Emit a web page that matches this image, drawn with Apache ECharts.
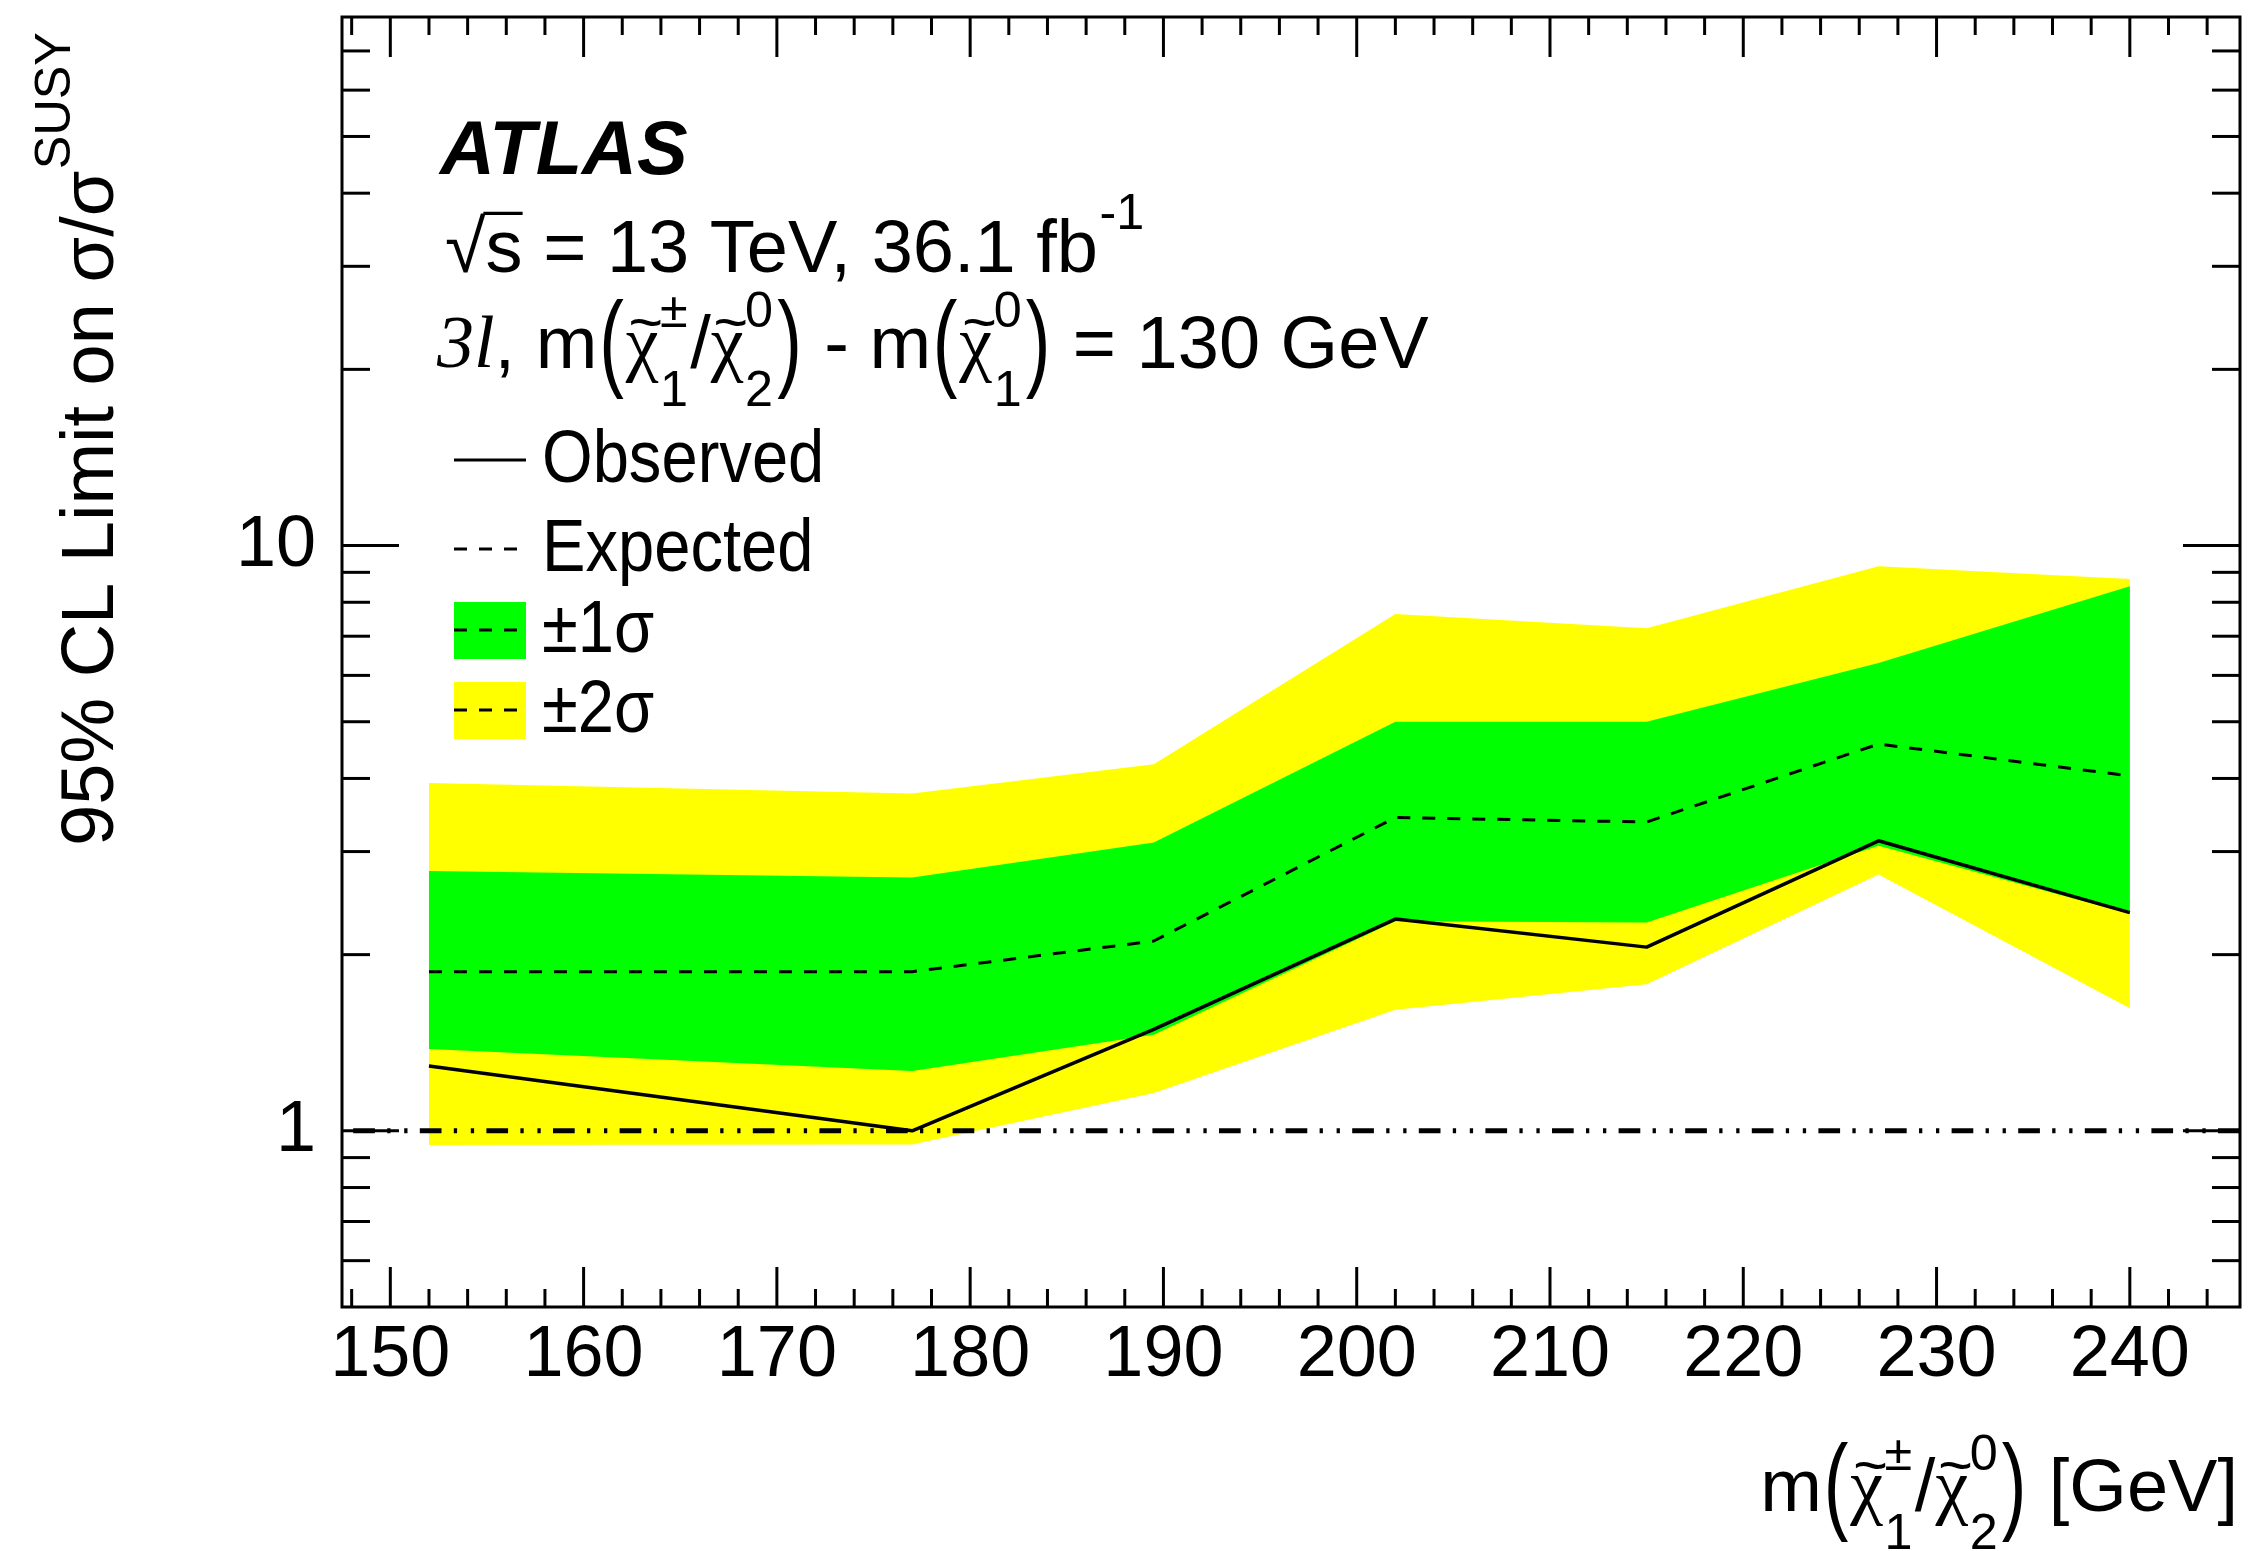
<!DOCTYPE html>
<html>
<head>
<meta charset="utf-8">
<script src="https://cdn.jsdelivr.net/npm/echarts@6/dist/echarts.min.js"></script>
<style>
  html, body { margin: 0; padding: 0; background: #fff; }
  #chart { width: 2249px; height: 1551px; }
</style>
</head>
<body>
<div id="chart"></div>
<script>
// Chargino/neutralino mass points [GeV]
const massPoints = [152, 177, 189.5, 202, 215, 227, 240];
// 95% CL upper limits on sigma / sigma_SUSY
const observedLimit = [1.29, 1.0, 1.49, 2.30, 2.06, 3.13, 2.36];
const expectedLimit = [1.87, 1.87, 2.11, 3.43, 3.37, 4.58, 4.04];
const oneSigmaUp   = [2.78, 2.71, 3.11, 5.00, 5.00, 6.30, 8.52];
const oneSigmaDown = [1.38, 1.265, 1.46, 2.28, 2.27, 3.07, 2.35];
const twoSigmaUp   = [3.93, 3.77, 4.23, 7.64, 7.22, 9.22, 8.77];
const twoSigmaDown = [0.946, 0.948, 1.16, 1.61, 1.78, 2.74, 1.62];
const unitLimit = 1;

// Axis ticks and labels
const xMajorTicks = [150, 160, 170, 180, 190, 200, 210, 220, 230, 240];
const xTickLabels = ['150', '160', '170', '180', '190', '200', '210', '220', '230', '240'];
const xMinorTicks = [148, 152, 154, 156, 158, 162, 164, 166, 168, 172, 174, 176, 178,
  182, 184, 186, 188, 192, 194, 196, 198, 202, 204, 206, 208, 212, 214, 216, 218,
  222, 224, 226, 228, 232, 234, 236, 238, 242, 244];
const yMajorTicks = [1, 10];
const yTickLabels = ['1', '10'];
const yMinorTicks = [0.6, 0.7, 0.8, 0.9, 2, 3, 4, 5, 6, 7, 8, 9, 20, 30, 40, 50, 60, 70];

const X_MIN = 147.5, X_MAX = 245.7, Y_MIN = 0.5, Y_MAX = 80;

const SANS = '"Liberation Sans", Arial, Helvetica, sans-serif';
const SERIF = '"Liberation Serif", "Times New Roman", serif';
const GREEN = '#00ff00';
const YELLOW = '#ffff00';

// ---- text helpers -------------------------------------------------------
const measureCtx = document.createElement('canvas').getContext('2d');
function fontStr(p) {
  return (p.style || 'normal') + ' ' + (p.weight || 'normal') + ' ' + p.size + 'px ' + (p.family || SANS);
}
function textWidth(s, p) {
  measureCtx.font = fontStr(p);
  return measureCtx.measureText(s).width;
}
// text element placed by its alphabetic baseline
function glyph(x, base, s, p, align) {
  return {
    type: 'text', x: x, y: base - 0.35 * p.size, silent: true,
    style: {
      text: s, font: fontStr(p), fill: '#000',
      align: align || 'left', verticalAlign: 'middle',
      textAlign: align || 'left', textVerticalAlign: 'middle'
    }
  };
}
// lays out a formula on a baseline at y = 0, starting at x = 0
function buildMath(parts, base) {
  const els = [];
  const S = base.size;
  const chiFont = Object.assign({}, base, { family: SERIF });
  let x = 0;
  for (const p of parts) {
    if (typeof p === 'string') {
      els.push(glyph(x, 0, p, base));
      x += textWidth(p, base);
    } else if (p.paren) {
      x += S * 0.025;
      const g = glyph(x, 0, p.paren, base);
      g.scaleY = 1.45;
      els.push(g);
      x += textWidth(p.paren, base) + S * 0.025;
    } else if (p.chi) {
      const cw = textWidth('\u03c7', chiFont);
      els.push(glyph(x, 0, '\u03c7', chiFont));
      const tp = Object.assign({}, base, { size: S * 0.8 });
      const tw = textWidth('~', tp);
      els.push(glyph(x + (cw - tw) / 2 + S * 0.05, -S * 0.36, '~', tp));
      const sp = Object.assign({}, base, { size: S * 0.68 });
      let sw = 0;
      if (p.sup) { els.push(glyph(x + cw + S * 0.02, -S * 0.57, p.sup, sp)); sw = Math.max(sw, textWidth(p.sup, sp)); }
      if (p.sub) { els.push(glyph(x + cw + S * 0.02, S * 0.5, p.sub, sp)); sw = Math.max(sw, textWidth(p.sub, sp)); }
      x += cw + S * 0.05 + sw;
    } else if (p.sup) {
      const sp = Object.assign({}, base, { size: S * 0.68 });
      els.push(glyph(x + S * 0.02, -S * 0.6, p.sup, sp));
      x += textWidth(p.sup, sp) + S * 0.02;
    } else if (p.text) {
      const fp = Object.assign({}, base, p.font || {});
      els.push(glyph(x, 0, p.text, fp));
      x += textWidth(p.text, fp);
    } else if (p.sqrt) {
      const rw = textWidth('\u221a', base);
      els.push(glyph(x, 0, '\u221a', base));
      const sw = textWidth(p.sqrt, base);
      els.push(glyph(x + rw, 0, p.sqrt, base));
      els.push({ type: 'line', silent: true,
        shape: { x1: x + rw - S * 0.03, y1: -S * 0.86, x2: x + rw + sw, y2: -S * 0.86 },
        style: { stroke: '#000', lineWidth: S * 0.045 } });
      x += rw + sw;
    }
  }
  return { els: els, width: x };
}
function mathGroup(parts, base, x, y, opts) {
  const m = buildMath(parts, base);
  opts = opts || {};
  let gx = x;
  if (opts.alignRight) gx = x - m.width;
  return Object.assign({ type: 'group', x: gx, y: y, children: m.els }, opts.rotation ? { rotation: opts.rotation } : {});
}

// ---- series ---------------------------------------------------------------
function bandSeries(upper, lower, color) {
  return {
    type: 'custom', coordinateSystem: 'cartesian2d', silent: true, animation: false,
    data: massPoints.map((m, i) => [m, lower[i], upper[i]]),
    encode: { x: 0, y: [1, 2] },
    renderItem: function (params, api) {
      if (params.dataIndex !== 0) return null;
      const pts = [];
      for (let i = 0; i < massPoints.length; i++) pts.push(api.coord([massPoints[i], upper[i]]));
      for (let i = massPoints.length - 1; i >= 0; i--) pts.push(api.coord([massPoints[i], lower[i]]));
      return { type: 'polygon', shape: { points: pts }, style: { fill: color, stroke: null } };
    }
  };
}

function axisFurniture(params, api) {
  const children = [];
  const ls = { stroke: '#000', lineWidth: 3 };
  const seg = (x1, y1, x2, y2) => children.push({ type: 'line', shape: { x1, y1, x2, y2 }, style: ls });
  xMajorTicks.forEach(v => {
    const b = api.coord([v, Y_MIN]), t = api.coord([v, Y_MAX]);
    seg(b[0], b[1], b[0], b[1] - 40); seg(t[0], t[1], t[0], t[1] + 40);
  });
  xMinorTicks.forEach(v => {
    const b = api.coord([v, Y_MIN]), t = api.coord([v, Y_MAX]);
    seg(b[0], b[1], b[0], b[1] - 18); seg(t[0], t[1], t[0], t[1] + 18);
  });
  yMajorTicks.forEach(v => {
    const l = api.coord([X_MIN, v]), r = api.coord([X_MAX, v]);
    seg(l[0], l[1], l[0] + 57, l[1]); seg(r[0], r[1], r[0] - 57, r[1]);
  });
  yMinorTicks.forEach(v => {
    const l = api.coord([X_MIN, v]), r = api.coord([X_MAX, v]);
    seg(l[0], l[1], l[0] + 28, l[1]); seg(r[0], r[1], r[0] - 28, r[1]);
  });
  const lp = { size: 72 };
  xTickLabels.forEach((lab, i) => {
    const b = api.coord([xMajorTicks[i], Y_MIN]);
    children.push(glyph(b[0], b[1] + 74, lab, lp, 'center'));
  });
  yTickLabels.forEach((lab, i) => {
    const l = api.coord([X_MIN, yMajorTicks[i]]);
    children.push(glyph(l[0] - 26, l[1] + 26, lab, lp, 'right'));
  });
  return { type: 'group', children: children };
}

const chart = echarts.init(document.getElementById('chart'), null, { renderer: 'canvas' });

// ---- annotation and legend ------------------------------------------------
const T = { size: 74 };
const chiPair = [
  { chi: true, sup: '\u00b1', sub: '1' }, '/', { chi: true, sup: '0', sub: '2' }
];
const graphics = [];
graphics.push(glyph(440, 180, 'ATLAS', { size: 76, weight: 'bold', style: 'italic' }));
graphics.push(mathGroup([{ sqrt: 's' }, ' = 13 TeV, 36.1 fb', { sup: '-1' }], T, 445, 277));
graphics.push(mathGroup([
  { text: '3l', font: { family: SERIF, style: 'italic' } }, ', m', { paren: '(' }, ...chiPair, { paren: ')' },
  ' - m', { paren: '(' }, { chi: true, sup: '0', sub: '1' }, { paren: ')' }, ' = 130 GeV'
], T, 437, 373));

// legend
const LEG_X0 = 454, LEG_X1 = 526, LEG_TX = 542;
const legendText = (s, base) => ({
  type: 'group', x: LEG_TX, y: base, scaleX: 0.88,
  children: [glyph(0, 0, s, T)]
});
graphics.push({ type: 'line', shape: { x1: LEG_X0, y1: 460, x2: LEG_X1, y2: 460 }, style: { stroke: '#000', lineWidth: 3 } });
graphics.push(legendText('Observed', 487));
graphics.push({ type: 'line', shape: { x1: LEG_X0, y1: 549, x2: LEG_X1, y2: 549 }, style: { stroke: '#000', lineWidth: 3, lineDash: [13, 12] } });
graphics.push(legendText('Expected', 576));
graphics.push({ type: 'rect', shape: { x: LEG_X0, y: 602, width: LEG_X1 - LEG_X0, height: 57 }, style: { fill: GREEN } });
graphics.push({ type: 'line', shape: { x1: LEG_X0, y1: 630, x2: LEG_X1, y2: 630 }, style: { stroke: '#000', lineWidth: 3, lineDash: [13, 12] } });
graphics.push(legendText('\u00b11\u03c3', 657));
graphics.push({ type: 'rect', shape: { x: LEG_X0, y: 682, width: LEG_X1 - LEG_X0, height: 57 }, style: { fill: YELLOW } });
graphics.push({ type: 'line', shape: { x1: LEG_X0, y1: 710, x2: LEG_X1, y2: 710 }, style: { stroke: '#000', lineWidth: 3, lineDash: [13, 12] } });
graphics.push(legendText('\u00b12\u03c3', 737));

// axis titles
graphics.push(mathGroup(['95% CL Limit on \u03c3/\u03c3', { sup: 'SUSY' }], T, 118, 846, { rotation: Math.PI / 2 }));
graphics.push(mathGroup(['m', { paren: '(' }, ...chiPair, { paren: ')' }, ' [GeV]'], T, 2238, 1516, { alignRight: true }));

chart.setOption({
  animation: false,
  backgroundColor: '#fff',
  grid: { left: 342, right: 9, top: 17, bottom: 244, show: true, borderColor: '#000', borderWidth: 3, backgroundColor: 'transparent' },
  xAxis: {
    type: 'value', min: X_MIN, max: X_MAX,
    axisLine: { show: false }, axisTick: { show: false }, axisLabel: { show: false }, splitLine: { show: false }
  },
  yAxis: {
    type: 'log', logBase: 10, min: Y_MIN, max: Y_MAX,
    axisLine: { show: false }, axisTick: { show: false }, axisLabel: { show: false }, splitLine: { show: false }
  },
  series: [
    bandSeries(twoSigmaUp, twoSigmaDown, YELLOW),
    bandSeries(oneSigmaUp, oneSigmaDown, GREEN),
    {
      type: 'line', silent: true, symbol: 'none',
      data: massPoints.map((m, i) => [m, expectedLimit[i]]),
      lineStyle: { color: '#000', width: 3, type: [13, 12] }
    },
    {
      type: 'line', silent: true, symbol: 'none',
      data: massPoints.map((m, i) => [m, observedLimit[i]]),
      lineStyle: { color: '#000', width: 3.5 }
    },
    {
      type: 'line', silent: true, symbol: 'none',
      data: [[X_MIN, unitLimit], [X_MAX, unitLimit]],
      lineStyle: { color: '#000', width: 5, cap: 'butt', type: [21.7, 12.3, 3.3, 13.7, 3.3, 12.3], dashOffset: 55.4 }
    },
    {
      type: 'custom', coordinateSystem: 'cartesian2d', silent: true, clip: false, z: 10,
      data: [[X_MIN, Y_MIN]],
      renderItem: axisFurniture
    }
  ],
  graphic: graphics
});
</script>
</body>
</html>
